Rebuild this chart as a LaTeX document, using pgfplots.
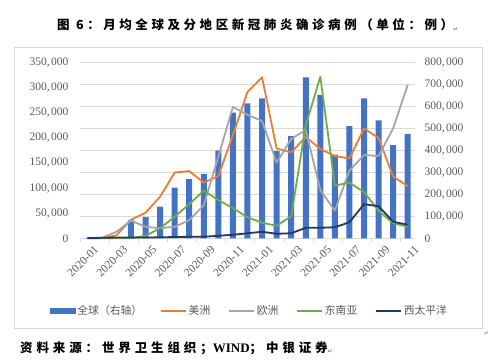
\documentclass[border=0pt]{standalone}
\usepackage{fontspec}
\usepackage{pgfplots}
\pgfplotsset{compat=1.18}
\setmainfont{Liberation Serif}
\newfontfamily\cjk{Noto Sans CJK SC}
\newfontfamily\cjkls{Noto Sans CJK SC}[LetterSpace=28.5]
\newfontfamily\cjklss{Noto Sans CJK SC}[LetterSpace=31]
\newfontfamily\symf{DejaVu Sans}
\definecolor{cbar}{HTML}{4472C4}
\definecolor{cor}{HTML}{ED7D31}
\definecolor{cgr}{HTML}{A5A5A5}
\definecolor{cgn}{HTML}{70AD47}
\definecolor{cnv}{HTML}{203864}
\definecolor{cgrid}{HTML}{D9D9D9}
\definecolor{ctxt}{HTML}{595959}
\newcommand\tickf{\fontsize{11.5}{12}\selectfont}
\newcommand\ths[2]{#1,\kern1.5pt#2}
\newcommand\ret{{\color{gray}\symf\fontsize{6}{7}\selectfont\raisebox{-1.5pt}{↵}}}
\begin{document}
\begin{tikzpicture}[x=1pt,y=1pt]
\fill[white] (0,0) rectangle (499,363);
\draw[cgrid, line width=0.75pt] (14,315.5) rectangle (482,34.5);
\node[anchor=west, inner sep=0pt] at (57,338) {\cjkls\bfseries\fontsize{12.5}{14}\selectfont 图 6：月均全球及分地区新冠肺炎确诊病例（单位：例）\ret};
\node[anchor=west, inner sep=0pt] at (20,15) {\cjklss\bfseries\fontsize{12.5}{14}\selectfont 资料来源：世界卫生组织；{\rmfamily\bfseries\fontsize{13}{14}\selectfont WIND}；中银证券\ret};
\node[anchor=west, inner sep=0pt, text=gray] at (484,29) {\symf\fontsize{6}{7}\selectfont ↵};

\begin{axis}[
  at={(80pt,124.7pt)}, anchor=south west,
  scale only axis, width=335pt, height=175.6pt,
  xmin=-0.5, xmax=22.5, ymin=0, ymax=800000,
  axis x line*=bottom, axis y line*=right,
  x axis line style={draw=cgrid, line width=0.75pt},
  y axis line style={draw=none},
  ytick={0,100000,200000,300000,400000,500000,600000,700000,800000},
  yticklabels={0,\ths{100}{000},\ths{200}{000},\ths{300}{000},\ths{400}{000},\ths{500}{000},\ths{600}{000},\ths{700}{000},\ths{800}{000}},
  scaled y ticks=false,
  ymajorgrids, grid style={draw=cgrid, line width=0.75pt},
  ytick style={draw=none},
  yticklabel style={font=\tickf, text=ctxt, anchor=west, xshift=6pt},
  xtick={0,2,4,6,8,10,12,14,16,18,20,22},
  xticklabels={2020-01,2020-03,2020-05,2020-07,2020-09,2020-11,2021-01,2021-03,2021-05,2021-07,2021-09,2021-11},
  minor xtick={-0.5,1.5,3.5,5.5,7.5,9.5,11.5,13.5,15.5,17.5,19.5,21.5},
  tick align=outside, major tick length=0pt, minor tick length=4pt,
  minor x tick style={draw=cgrid, line width=0.75pt},
  xticklabel style={font=\tickf, text=ctxt, rotate=45, anchor=north east, xshift=3pt, yshift=-6pt},
  clip=false,
]
\addplot[ybar, bar width=6pt, fill=cbar, draw=none] coordinates {
(0,300) (1,2000) (2,5000) (3,82000) (4,96000) (5,144000) (6,231000) (7,270000)
(8,292000) (9,399000) (10,572000) (11,615000) (12,638000) (13,397000) (14,466000)
(15,733000) (16,653000) (17,381000) (18,511000) (19,638000) (20,537000) (21,425000) (22,475000)};
\end{axis}

\begin{axis}[
  at={(80pt,124.7pt)}, anchor=south west,
  scale only axis, width=335pt, height=175.6pt,
  xmin=-0.5, xmax=22.5, ymin=0, ymax=350000,
  axis x line=none, axis y line*=left,
  y axis line style={draw=none},
  ytick={0,50000,100000,150000,200000,250000,300000,350000},
  yticklabels={0,\ths{50}{000},\ths{100}{000},\ths{150}{000},\ths{200}{000},\ths{250}{000},\ths{300}{000},\ths{350}{000}},
  scaled y ticks=false,
  ytick style={draw=none},
  yticklabel style={font=\tickf, text=ctxt, anchor=east, xshift=-8pt},
  clip=false,
  legend style={at={(0.506,-0.414)}, anchor=center, draw=none, fill=none,
    font=\cjk\fontsize{10.8}{12}\selectfont, text=ctxt,
    /tikz/every even column/.append style={column sep=16pt}},
  legend columns=5,
  legend cell align=left,
  legend image code/.code={\draw[#1, line width=1.5pt] (0pt,0pt) -- (25pt,0pt);},
]
\addlegendimage{legend image code/.code={\fill[cbar] (0pt,-2.5pt) rectangle (25pt,2.5pt);}}
\addlegendentry{全球（右轴）}
\addplot[cor, line width=1.8pt, line join=round] coordinates {
(0,0) (1,200) (2,6000) (3,37000) (4,51000) (5,83000) (6,131000) (7,134000)
(8,111000) (9,124000) (10,206000) (11,292000) (12,321000) (13,179000) (14,171000)
(15,202000) (16,178000) (17,164000) (18,159000) (19,219000) (20,200000) (21,123000) (22,104000)};
\addlegendentry{美洲}
\addplot[cgr, line width=1.8pt, line join=round] coordinates {
(0,0) (1,1000) (2,13000) (3,35000) (4,23000) (5,20000) (6,23000) (7,36000)
(8,66000) (9,163000) (10,262000) (11,246000) (12,234000) (13,151000) (14,198000)
(15,216000) (16,96000) (17,55000) (18,135000) (19,166000) (20,164000) (21,219000) (22,306000)};
\addlegendentry{欧洲}
\addplot[cgn, line width=1.8pt, line join=round] coordinates {
(0,0) (1,0) (2,0) (3,0) (4,5000) (5,20000) (6,43000) (7,68000)
(8,95000) (9,76000) (10,60000) (11,42000) (12,31000) (13,25000) (14,44000)
(15,225000) (16,322000) (17,105000) (18,111000) (19,92000) (20,55000) (21,30000) (22,23000)};
\addlegendentry{东南亚}
\addplot[cnv, line width=1.8pt, line join=round] coordinates {
(0,500) (1,1000) (2,1500) (3,1500) (4,1500) (5,2000) (6,2500) (7,3000)
(8,3000) (9,5000) (10,7000) (11,10000) (12,13000) (13,9000) (14,10000)
(15,21000) (16,21000) (17,22000) (18,32000) (19,68000) (20,64000) (21,33000) (22,27000)};
\addlegendentry{西太平洋}
\end{axis}
\pgfresetboundingbox
\path[use as bounding box] (0,0) rectangle (499,363);
\end{tikzpicture}
\end{document}
